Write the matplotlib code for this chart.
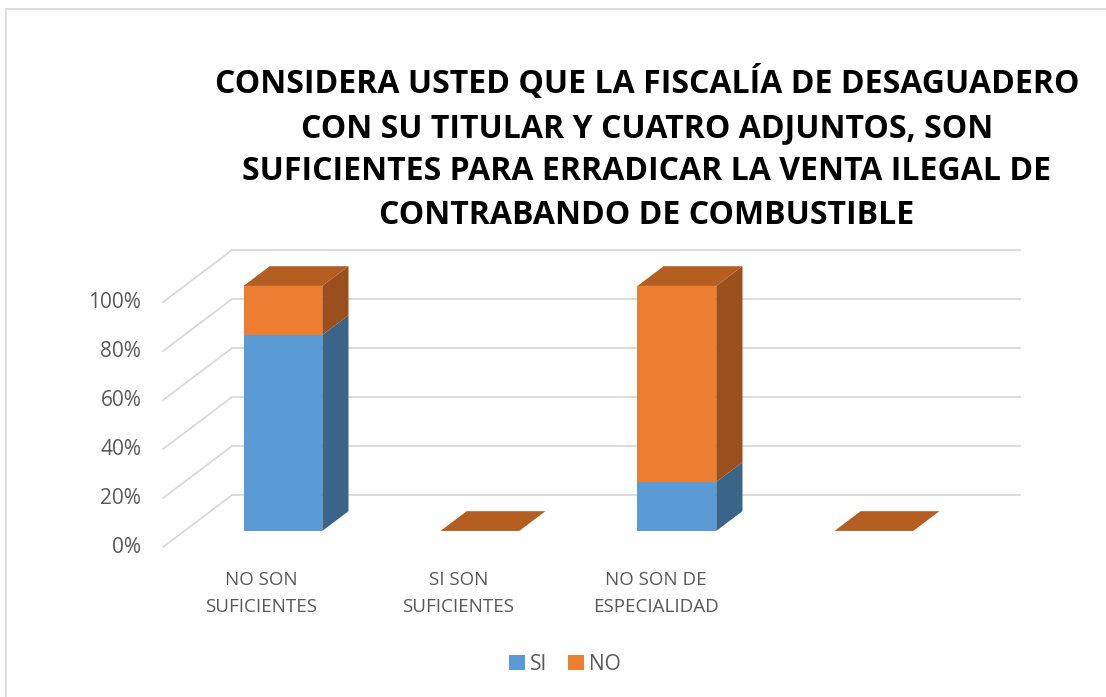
import matplotlib
matplotlib.use("Agg")
import matplotlib.pyplot as plt
from matplotlib.patches import Polygon, Rectangle, Patch

plt.rcParams['font.family'] = ['Open Sans', 'DejaVu Sans']

# data
categories = ["NO SON\nSUFICIENTES", "SI SON\nSUFICIENTES", "NO SON DE\nESPECIALIDAD", ""]
series_names = ["SI", "NO"]
si_values = [80, 0, 20, 0]
no_values = [20, 0, 80, 0]
y_ticks = [0, 20, 40, 60, 80, 100]
title = ("CONSIDERA USTED QUE LA FISCALÍA DE DESAGUADERO\n"
         "CON SU TITULAR Y CUATRO ADJUNTOS, SON\n"
         "SUFICIENTES PARA ERRADICAR LA VENTA ILEGAL DE\n"
         "CONTRABANDO DE COMBUSTIBLE")

front_colors = ["#5B9BD5", "#ED7D31"]
side_colors = ["#3A6589", "#9A4F1D"]
top_colors = ["#4A7DAA", "#B45E22"]
grid_col = "#D9D9D9"
text_col = "#595959"

# fake 3d: depth z in [0, 1] shifts points by (DX, DY)
DX, DY = 0.35, 21.2
Z0, Z1 = 0.31, 0.69
W = 0.40


def proj(x, y, z):
    return (x + z * DX, y + z * DY)


fig = plt.figure(figsize=(11.06, 6.97), dpi=100)
ax = fig.add_axes([0.1296, 0.1976, 0.8193, 0.4745])
ax.set_xlim(-0.6, 4.0)
ax.set_ylim(-5, 130)
ax.axis("off")

# back wall gridlines + side wall diagonals
x_lo, x_hi = -0.5, len(categories) - 0.5
for t in y_ticks:
    a, b = proj(x_lo, t, 1), proj(x_hi, t, 1)
    ax.plot([a[0], b[0]], [a[1], b[1]], color=grid_col, lw=1.3, zorder=1)
    c = proj(x_lo, t, 0)
    ax.plot([c[0], a[0]], [c[1], a[1]], color=grid_col, lw=1.3, zorder=1)
    ax.text(c[0] - 0.11, c[1], f"{t}%", ha="right", va="center",
            fontsize=15, color=text_col)

# stacked bars
stack = [si_values, no_values]
for i in range(len(categories)):
    bottom = 0
    for s, vals in enumerate(stack):
        v = vals[i]
        fx, fy = proj(i, bottom, Z0)
        ax.bar(fx, v, width=W, bottom=fy, color=front_colors[s], zorder=3 + i)
        xr = i + W / 2
        side = [proj(xr, bottom, Z0), proj(xr, bottom + v, Z0),
                proj(xr, bottom + v, Z1), proj(xr, bottom, Z1)]
        ax.add_patch(Polygon(side, closed=True, facecolor=side_colors[s],
                             edgecolor="none", zorder=3 + i))
        bottom += v
    xl = i - W / 2
    xr = i + W / 2
    top = [proj(xl, bottom, Z0), proj(xr, bottom, Z0),
           proj(xr, bottom, Z1), proj(xl, bottom, Z1)]
    ax.add_patch(Polygon(top, closed=True, facecolor=top_colors[-1],
                         edgecolor="none", zorder=3 + i))

for i, lab in enumerate(categories):
    ax.text(i, -19.0, lab, ha="center", va="center", fontsize=13.5,
            color=text_col, linespacing=1.6)

fig.text(0.585, 0.7863, title, ha="center", va="center", fontsize=23,
         fontweight="bold", color="black", linespacing=1.42)

handles = [Patch(facecolor=c) for c in front_colors]
fig.legend(handles, series_names, loc="center", bbox_to_anchor=(565 / 1106, 1 - 664 / 697),
           ncol=2, frameon=False, fontsize=15, handlelength=0.75, handleheight=0.75,
           handletextpad=0.25, columnspacing=1.0, labelcolor=text_col)

fig.add_artist(Rectangle((6 / 1106, -0.1), 1.2, 1.1 - 9 / 697,
                         transform=fig.transFigure, fill=False,
                         edgecolor=grid_col, lw=1.2))

fig.savefig("out.png", dpi=100)
